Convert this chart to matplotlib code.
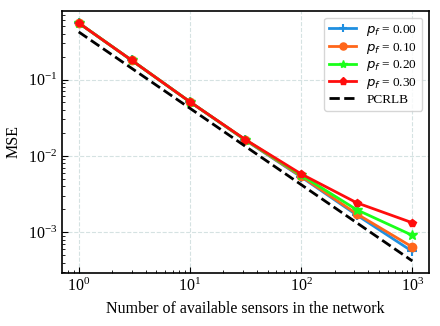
import matplotlib
matplotlib.use("Agg")
import matplotlib.pyplot as plt

# данные
sensors = [1, 3, 10, 31.6, 100, 316, 1000]
mse_p000 = [0.55, 0.178, 0.051, 0.0160, 5.3e-3, 1.68e-3, 5.6e-4]
mse_p010 = [0.55, 0.178, 0.051, 0.0161, 5.4e-3, 1.74e-3, 6.4e-4]
mse_p020 = [0.55, 0.178, 0.051, 0.0162, 5.6e-3, 1.97e-3, 9.1e-4]
mse_p030 = [0.55, 0.178, 0.051, 0.0163, 5.8e-3, 2.43e-3, 1.33e-3]
pcrlb = [0.42, 0.14, 0.042, 0.0133, 4.2e-3, 1.33e-3, 4.2e-4]

labels = [r"$p_f$ = 0.00", r"$p_f$ = 0.10", r"$p_f$ = 0.20", r"$p_f$ = 0.30", "PCRLB"]

plt.rcParams["font.family"] = ["Liberation Serif", "DejaVu Serif"]
plt.rcParams["font.size"] = 11.5

fig, ax = plt.subplots(figsize=(4.4, 3.26), dpi=100)

# кривые для разных вероятностей отказа
ax.plot(sensors, mse_p000, color="#1f8fe0", marker="+", markersize=7, mew=1.5, lw=2, label=labels[0])
ax.plot(sensors, mse_p010, color="#ff661a", marker="o", markersize=6, lw=2, label=labels[1])
ax.plot(sensors, mse_p020, color="#1aff1a", marker="*", markersize=7, lw=2, label=labels[2])
ax.plot(sensors, mse_p030, color="#ff0d0d", marker="p", markersize=6, lw=2, label=labels[3])
ax.plot(sensors, pcrlb, color="black", ls="--", lw=2, label=labels[4])

ax.set_xscale("log")
ax.set_yscale("log")
ax.set_xlabel("Number of available sensors in the network")
ax.set_ylabel("MSE")

ax.grid(True, which="major", ls="--", color="#d5e2e2", lw=0.8)
ax.tick_params(which="both", direction="in")
ax.tick_params(which="major", length=4)
ax.tick_params(which="minor", length=2)
for s in ax.spines.values():
    s.set_linewidth(1.2)

ax.legend(loc="upper right", fontsize=9.5, labelspacing=0.2, markerscale=0.85)

fig.subplots_adjust(left=0.141, right=0.975, top=0.966, bottom=0.163)
fig.savefig("out.png", dpi=100)
